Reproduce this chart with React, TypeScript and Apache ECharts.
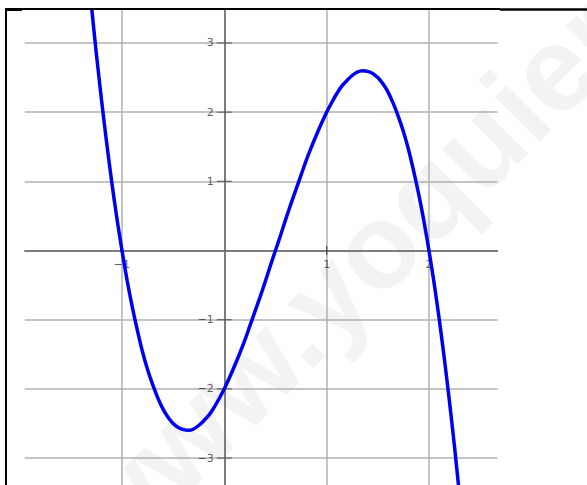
import React, { useEffect, useRef } from 'react';
import * as echarts from 'echarts';

// Curve samples
const xValues = [
  -1.3, -1.25, -1.2, -1.15, -1.1, -1.05, -1.0, -0.95, -0.9, -0.85, -0.8, -0.75, -0.7, -0.65, -0.6, -0.55, -0.5, -0.45, -0.4, -0.35,
  -0.3, -0.25, -0.2, -0.15, -0.1, -0.05, 0, 0.05, 0.1, 0.15, 0.2, 0.25, 0.3, 0.35, 0.4, 0.45, 0.5, 0.55, 0.6, 0.65,
  0.7, 0.75, 0.8, 0.85, 0.9, 0.95, 1.0, 1.05, 1.1, 1.15, 1.2, 1.25, 1.3, 1.35, 1.4, 1.45, 1.5, 1.55, 1.6, 1.65,
  1.7, 1.75, 1.8, 1.85, 1.9, 1.95, 2.0, 2.05, 2.1, 2.15, 2.2, 2.25, 2.3,
];
const yValues = [
  3.56, 2.84, 2.18, 1.56, 0.99, 0.47, 0, -0.43, -0.81, -1.15, -1.46, -1.72, -1.94, -2.13, -2.29, -2.41, -2.5, -2.56, -2.59, -2.6,
  -2.58, -2.53, -2.46, -2.38, -2.27, -2.14, -2, -1.84, -1.67, -1.49, -1.3, -1.09, -0.88, -0.67, -0.45, -0.22, 0, 0.22, 0.45, 0.67,
  0.88, 1.09, 1.3, 1.49, 1.67, 1.84, 2, 2.14, 2.27, 2.38, 2.46, 2.53, 2.58, 2.6, 2.59, 2.56, 2.5, 2.41, 2.29, 2.13,
  1.94, 1.72, 1.46, 1.15, 0.81, 0.43, 0, -0.47, -0.99, -1.56, -2.18, -2.84, -3.56,
];

const xTickValues = [-1, 1, 2];
const yTickValues = [-3, -2, -1, 1, 2, 3];
const xRange = [-1.95, 2.67];
const yRange = [-3.6, 3.48];
const watermarkText = 'www.yoquier.com';

const fmt = (v: number) => (v < 0 ? '\u2212' + Math.abs(v) : String(v));

export default function App() {
  const ref = useRef<HTMLDivElement>(null);
  useEffect(() => {
    if (!ref.current) return;
    const chart = echarts.init(ref.current, undefined, { renderer: 'svg' });
    const unitX = 102.33;
    const unitY = 69.17;
    const gridLeft = 224.3 + xRange[0] * unitX;
    const gridTop = 250.5 - yRange[1] * unitY;
    const gridW = (xRange[1] - xRange[0]) * unitX;
    const gridH = (yRange[1] - yRange[0]) * unitY;
    const labelStyle = { color: '#333', fontSize: 11, fontFamily: 'DejaVu Sans' };
    const axisLine = { show: true, onZero: true, lineStyle: { color: '#666', width: 1.5 } };
    const splitLine = { show: true, showMinLine: false, showMaxLine: false, lineStyle: { color: '#b0b0b0', width: 1.5 } };
    chart.setOption({
      animation: false,
      backgroundColor: '#fff',
      grid: { left: gridLeft, top: gridTop, width: gridW, height: gridH, containLabel: false, outerBoundsMode: 'none' },
      xAxis: {
        type: 'value', position: 'bottom', min: xRange[0], max: xRange[1],
        axisLine, splitLine,
        axisTick: { show: false },
        axisLabel: { show: false },
      },
      yAxis: {
        type: 'value', position: 'left', min: yRange[0], max: yRange[1],
        axisLine, splitLine,
        axisTick: { show: false },
        axisLabel: { show: false },
      },
      graphic: [
        {
          type: 'text', x: 83, y: 539, rotation: Math.PI / 4, z: -10, silent: true,
          style: { text: watermarkText, fontSize: 120, fontWeight: 'bold', fontFamily: 'Liberation Sans', fill: '#f3f3f3', align: 'left', verticalAlign: 'middle' },
        },
        { type: 'line', z: 100, shape: { x1: 6, y1: 8, x2: 6, y2: 485 }, style: { stroke: '#000', lineWidth: 2 } },
        { type: 'line', z: 100, shape: { x1: 5, y1: 9, x2: 500, y2: 9 }, style: { stroke: '#000', lineWidth: 2 } },
        { type: 'line', z: 100, shape: { x1: 500, y1: 9.5, x2: 587, y2: 9.5 }, style: { stroke: '#000', lineWidth: 2.5 } },
        { type: 'rect', z: 100, shape: { x: 5, y: 8, width: 17, height: 3 }, style: { fill: '#000' } },
      ],
      series: [
        {
          type: 'scatter', silent: true, z: 3,
          data: xTickValues.map((v) => [v, 0]),
          symbol: 'rect', symbolSize: [1.3, 9],
          itemStyle: { color: '#333' },
          label: {
            show: true, position: 'bottom', distance: 4, ...labelStyle,
            formatter: (p: any) => fmt(p.value[0]),
          },
        },
        {
          type: 'scatter', silent: true, z: 3,
          data: yTickValues.map((v) => [0, v]),
          symbol: 'rect', symbolSize: [15, 1.3],
          itemStyle: { color: '#555' },
          label: {
            show: true, position: 'left', distance: 3, ...labelStyle,
            formatter: (p: any) => fmt(p.value[1]),
          },
        },
        {
          type: 'line',
          data: xValues.map((x, i) => [x, yValues[i]]),
          showSymbol: false,
          smooth: 0.3,
          clip: true,
          lineStyle: { color: '#0000ee', width: 3.5 },
          z: 5,
        },
      ],
    });
    return () => chart.dispose();
  }, []);
  return <div ref={ref} style={{ position: 'absolute', left: 0, top: 0, width: 587, height: 485 }} />;
}
